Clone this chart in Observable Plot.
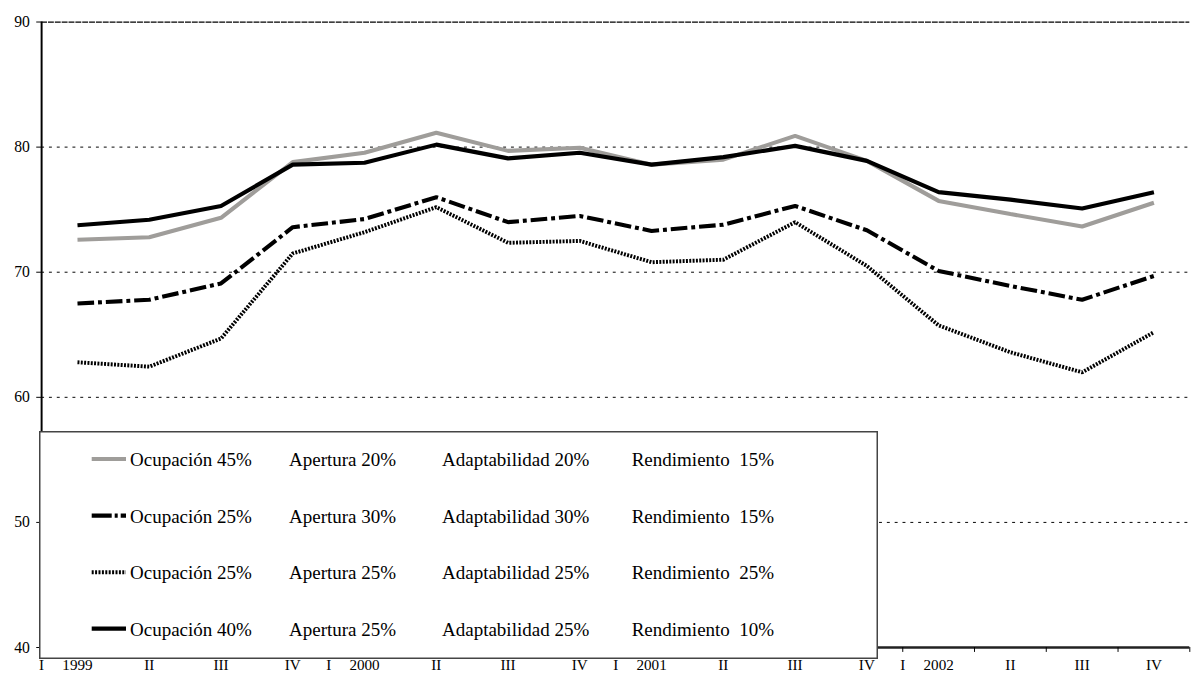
<!DOCTYPE html>
<html>
<head>
<meta charset="utf-8">
<script src="https://cdn.jsdelivr.net/npm/d3@7"></script>
<script src="https://cdn.jsdelivr.net/npm/@observablehq/plot@0.6"></script>
<style>
html, body { margin: 0; padding: 0; background: #fff; }
#wrap { position: relative; width: 1204px; height: 684px; overflow: hidden; background: #fff; }
#legend { position: absolute; left: 39px; top: 431px; }
</style>
</head>
<body>
<div id="wrap"></div>
<script>
// ---- data ----
const quarters = ["I 1999","II 1999","III 1999","IV 1999","I 2000","II 2000","III 2000","IV 2000",
                  "I 2001","II 2001","III 2001","IV 2001","I 2002","II 2002","III 2002","IV 2002"];
const xLabels = ["1999","II","III","IV","2000","II","III","IV","2001","II","III","IV","2002","II","III","IV"];
const yearStartLabel = "I";
const yTicks = [40, 50, 60, 70, 80, 90];
const gridValues = [50, 60, 70, 80];

const ocu45 = [72.6, 72.8, 74.35, 78.8, 79.55, 81.15, 79.7, 79.95, 78.6, 79.0, 80.9, 78.9, 75.7, 74.65, 73.65, 75.55];
const ocu25a30 = [67.5, 67.8, 69.1, 73.6, 74.25, 76.0, 74.0, 74.5, 73.3, 73.8, 75.3, 73.35, 70.1, 68.9, 67.8, 69.7];
const ocu25a25 = [62.8, 62.45, 64.7, 71.5, 73.2, 75.2, 72.35, 72.5, 70.8, 71.0, 74.0, 70.5, 65.75, 63.6, 62.0, 65.2];
const ocu40 = [73.75, 74.2, 75.3, 78.6, 78.75, 80.2, 79.1, 79.55, 78.6, 79.2, 80.1, 78.9, 76.4, 75.8, 75.1, 76.4];

const legOcup = ["Ocupación 45%", "Ocupación 25%", "Ocupación 25%", "Ocupación 40%"];
const legApert = ["Apertura 20%", "Apertura 30%", "Apertura 25%", "Apertura 25%"];
const legAdapt = ["Adaptabilidad 20%", "Adaptabilidad 30%", "Adaptabilidad 25%", "Adaptabilidad 25%"];
const legRend = ["Rendimiento  15%", "Rendimiento  15%", "Rendimiento  25%", "Rendimiento  10%"];

// ---- styles per series ----
const seriesDefs = [
  {values: ocu45, stroke: "#9f9d9a", dash: null, width: 4.2, legDash: null},
  {values: ocu25a30, stroke: "#000", dash: "17,4,4,4", width: 4.2, legDash: "20,3,3,3"},
  {values: ocu25a25, stroke: "#000", dash: "2,1.4", width: 4, legDash: "2,1.4"},
  {values: ocu40, stroke: "#000", dash: null, width: 4.2, legDash: null}
];

const toRows = (vals) => vals.map((v, i) => ({q: quarters[i], i, v}));
const xPos = d => quarters.indexOf(d.q) + 0.5;

const lineMarks = seriesDefs.map(s => Plot.line(toRows(s.values), {
  x: xPos, y: "v", stroke: s.stroke, strokeWidth: s.width,
  strokeDasharray: s.dash || undefined, strokeLinejoin: "miter", strokeLinecap: "butt"
}));

const font = '"Liberation Serif", "Times New Roman", serif';

const chart = Plot.plot({
  width: 1230,
  height: 684,
  marginLeft: 42,
  marginRight: 15,
  marginTop: 22,
  marginBottom: 23,
  style: {fontFamily: font, fontSize: "16px", color: "#000", background: "#fff", overflow: "visible"},
  x: {type: "linear", domain: [0, quarters.length], axis: null, label: null},
  y: {domain: [40, 90], axis: null, label: null},
  marks: [
    Plot.ruleY(gridValues, {stroke: "#000", strokeWidth: 1, strokeDasharray: "3,5"}),
    Plot.ruleY([90], {stroke: "#000", strokeWidth: 1.3, strokeDasharray: "6,1"}),
    ...lineMarks,
    Plot.ruleX([0], {stroke: "#000", strokeWidth: 2}),
    Plot.ruleY([40], {stroke: "#222", strokeWidth: 2.4}),
    Plot.axisY({ticks: yTicks, tickSize: 5, tickPadding: 7, fontSize: 16, label: null,
      tickFormat: d => String(d)}),
    Plot.axisX({ticks: d3.range(quarters.length + 1), tickSize: 5, tickPadding: 6.7, fontSize: 15.5, label: null,
      tickFormat: d => (d % 4 === 0 && d < quarters.length) ? yearStartLabel : ""}),
    Plot.axisX({ticks: quarters.map((q, i) => i + 0.5), tickSize: 0, tickPadding: 11.7, fontSize: 15.5, label: null,
      tickFormat: d => xLabels[Math.floor(d)]})
  ]
});

const wrap = document.getElementById("wrap");
wrap.appendChild(chart);

// ---- legend (box inside chart area) ----
const LW = 839, LH = 228;
const leg = d3.select(wrap).append("svg")
  .attr("id", "legend")
  .attr("width", LW).attr("height", LH)
  .attr("font-family", font).attr("font-size", 19);
leg.append("rect").attr("x", 0.75).attr("y", 0.75).attr("width", LW - 1.5).attr("height", LH - 1.5)
  .attr("fill", "#fff").attr("stroke", "#444").attr("stroke-width", 1.5);

const rowY = [28, 84.7, 141.3, 197.7];
const colX = [91, 250, 403, 592.7];
seriesDefs.forEach((s, r) => {
  const y = rowY[r];
  leg.append("line").attr("x1", 52.7).attr("x2", 87).attr("y1", y).attr("y2", y)
    .attr("stroke", s.stroke).attr("stroke-width", s.width)
    .attr("stroke-dasharray", s.legDash);
  [legOcup[r], legApert[r], legAdapt[r], legRend[r]].forEach((t, c) => {
    leg.append("text").attr("x", colX[c]).attr("y", y + 7)
      .attr("font-family", font)
      .style("white-space", "pre").attr("fill", "#000").text(t);
  });
});
</script>
</body>
</html>
